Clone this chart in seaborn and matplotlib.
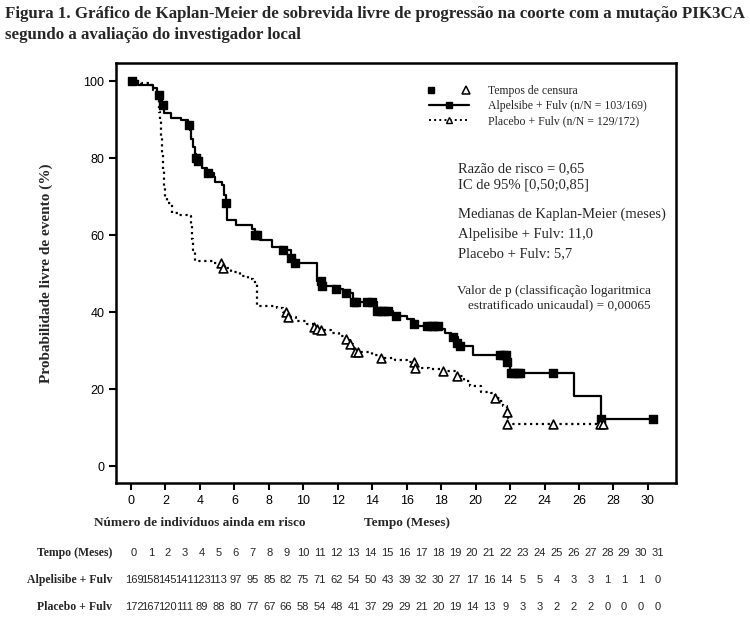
import numpy as np
import matplotlib
matplotlib.use("Agg")
import matplotlib.pyplot as plt
import seaborn as sns
from matplotlib.lines import Line2D
from matplotlib.legend_handler import HandlerTuple

# estilo
sns.set_theme(style="ticks")
plt.rcParams['font.family'] = ['Liberation Sans', 'DejaVu Sans']
SERIF = ['Liberation Serif', 'DejaVu Serif']
NARROW = ['Liberation Sans Narrow', 'Liberation Sans', 'DejaVu Sans']

# curva Alpelisibe + Fulv (tempo em meses, sobrevida %)
alp_t = [0, 0.4, 1.3, 1.5, 1.6, 1.7, 1.8, 1.9, 2.3, 2.9, 3.3, 3.4, 3.5, 3.6, 3.7, 3.8, 3.9,
         4.1, 4.4, 4.8, 4.9, 5.3, 5.4, 5.5, 5.6, 6.1, 7.0, 7.2, 7.5, 8.2, 8.8, 9.3, 9.5,
         10.8, 11.1, 11.9, 12.3, 12.5, 12.9, 14.3, 15.2, 15.4, 16.0, 16.4, 16.6, 18.0,
         18.2, 18.6, 19.0, 19.2, 19.85, 21.8, 22.0, 25.7, 27.3, 30.3]
alp_s = [100, 99, 98.1, 97, 96.4, 95, 93.8, 91.6, 90.3, 89.9, 88.6, 87.3, 85, 83, 81, 80, 79.2,
         77.5, 76.1, 75.2, 73.9, 73, 70.5, 68.3, 64, 62.7, 61.5, 60, 58.8, 57, 56.2, 54, 52.8,
         48, 46.7, 46, 45.5, 45, 42.5, 40.2, 39.5, 39, 38.2, 37, 36.4, 35.5,
         34.5, 33.5, 32, 31.1, 28.8, 27, 24.1, 18.2, 12.2, 12.2]

# censuras Alpelisibe
alp_ct = [0.05, 1.6, 1.85, 3.35, 3.8, 3.9, 4.45, 5.5, 7.2, 7.3, 8.8, 9.3, 9.5, 11.0, 11.1,
          11.9, 12.5, 12.95, 13.05, 13.7, 14.0, 14.3, 14.5, 14.7, 14.9, 15.4, 16.4, 17.2,
          17.4, 17.6, 17.8, 18.7, 18.9, 19.1, 21.4, 21.6, 21.75, 21.85, 22.05, 22.25, 22.45,
          22.6, 24.5, 27.3, 30.3]
alp_cs = [100, 96.4, 93.8, 88.6, 80, 79.2, 76.1, 68.3, 60, 60, 56.2, 54, 52.8, 48, 46.7,
          46, 45, 42.5, 42.5, 42.5, 42.5, 40.2, 40.2, 40.2, 40.2, 39, 37, 36.4,
          36.4, 36.4, 36.4, 33.5, 32, 31.1, 28.8, 28.8, 28.8, 27, 24.1, 24.1, 24.1,
          24.1, 24.1, 12.2, 12.2]

# curva Placebo + Fulv
pla_t = [0, 0.6, 1.1, 1.3, 1.5, 1.6, 1.65, 1.7, 1.75, 1.8, 1.85, 1.9, 2.0, 2.1, 2.4, 2.8,
         3.3, 3.5, 3.55, 3.6, 3.7, 4.8, 5.3, 5.8, 6.3, 6.8, 7.1, 7.3, 8.5, 8.8, 9.1, 9.6,
         10.2, 10.6, 11.0, 11.6, 12.1, 12.5, 12.7, 12.9, 13.1, 14.0, 14.5, 15.3, 16.0,
         16.5, 17.3, 18.1, 18.9, 19.3, 19.7, 20.3, 20.9, 21.1, 21.4, 21.6, 21.8, 21.9, 27.4]
pla_s = [100, 99.4, 99, 97.7, 96, 94.2, 92, 89.9, 85.5, 81.3, 77, 72.6, 70, 68.3, 65.7, 65.3,
         64.9, 62.3, 59, 56, 53.2, 52.8, 51.5, 50.5, 49.5, 48.5, 47.7, 41.5, 41, 40, 38.6, 37.8,
         37, 36, 35.3, 34.5, 33.8, 32.9, 31.7, 30.5, 29.5, 28.9, 28.2, 27.5, 27,
         25.6, 25.2, 24.7, 23.3, 22, 20.8, 19.2, 18.9, 17.6, 16.9, 15.7, 14, 10.9, 10.9]

# censuras Placebo
pla_ct = [5.2, 5.35, 9.0, 9.1, 10.6, 10.8, 11.0, 12.5, 12.7, 13.0, 13.15, 14.5, 16.4, 16.5,
          18.1, 18.9, 21.1, 21.8, 21.8, 24.5, 27.2, 27.4]
pla_cs = [52.8, 51.5, 40, 38.6, 36, 35.6, 35.3, 32.9, 31.7, 29.5, 29.5, 28.2, 27, 25.6,
          24.7, 23.3, 17.6, 14, 10.9, 10.9, 10.9, 10.9]

# tabela de número em risco
risk_months = list(range(32))
alp_risk = [169, 158, 145, 141, 123, 113, 97, 95, 85, 82, 75, 71, 62, 54, 50, 43, 39, 32,
            30, 27, 17, 16, 14, 5, 5, 4, 3, 3, 1, 1, 1, 0]
pla_risk = [172, 167, 120, 111, 89, 88, 80, 77, 67, 66, 58, 54, 48, 41, 37, 29, 29, 21,
            20, 19, 14, 13, 9, 3, 3, 2, 2, 2, 0, 0, 0, 0]

W, H = 750, 635
fig = plt.figure(figsize=(7.5, 6.35), dpi=100)
ax = fig.add_axes([116 / W, 1 - 483 / H, 560 / W, 420 / H])

sns.lineplot(x=alp_t, y=alp_s, drawstyle='steps-post', estimator=None, color='black',
             lw=1.6, ax=ax)
sns.lineplot(x=pla_t, y=pla_s, drawstyle='steps-post', estimator=None, color='black',
             lw=1.6, linestyle=':', ax=ax)
ax.scatter(alp_ct, alp_cs, marker='s', s=30, color='black', zorder=3)
ax.scatter(pla_ct, pla_cs, marker='^', s=40, facecolors='white', edgecolors='black',
           linewidths=1.2, zorder=3)

ax.set_xlim(-0.87, 31.63)
ax.set_ylim(-4.4, 104.7)
ax.set_xticks(range(0, 31, 2))
ax.set_yticks(range(0, 101, 20))
ax.tick_params(labelsize=9, width=1.5, length=5, direction='out', colors='black')
for sp in ax.spines.values():
    sp.set_linewidth(1.8)
    sp.set_color('black')
ax.set_ylabel('Probabilidade livre de evento (%)', family=SERIF, fontweight='bold',
              fontsize=11, labelpad=22)
ax.set_xlabel('')

# legenda
h_cens = (Line2D([], [], marker='s', ls='none', color='black', ms=4),
          Line2D([], [], marker='^', ls='none', mfc='white', mec='black', ms=6, mew=1.1))
h_alp = Line2D([], [], color='black', lw=1.6, marker='s', ms=5)
h_pla = Line2D([], [], color='black', lw=1.4, ls=':', marker='^', ms=5, mfc='white', mec='black')
ax.legend([h_cens, h_alp, h_pla],
          ['Tempos de censura', 'Alpelsibe + Fulv (n/N = 103/169)',
           'Placebo + Fulv (n/N = 129/172)'],
          handler_map={tuple: HandlerTuple(ndivide=None, pad=2.5)},
          loc='upper left', bbox_to_anchor=(0.55, 0.958), frameon=False,
          prop={'family': SERIF, 'size': 8.5}, handlelength=3.4, handletextpad=1.6,
          labelspacing=0.25, borderaxespad=0)

# anotações
ax.text(0.61, 0.764, 'Razão de risco = 0,65\nIC de 95% [0,50;0,85]', transform=ax.transAxes,
        family=SERIF, fontsize=10.5, va='top', linespacing=1.3)
ax.text(0.61, 0.655, 'Medianas de Kaplan-Meier (meses)\nAlpelisibe + Fulv: 11,0\nPlacebo + Fulv: 5,7',
        transform=ax.transAxes, family=SERIF, fontsize=10.5, va='top', linespacing=1.65)
ax.text(0.955, 0.471, 'Valor de p (classificação logaritmica\nestratificado unicaudal) = 0,00065',
        transform=ax.transAxes, family=SERIF, fontsize=9.5, va='top', ha='right',
        linespacing=1.25)

# título
fig.text(5 / W, 1 - 14 / H, 'Figura 1. Gráfico de Kaplan-Meier de sobrevida livre de progressão na coorte com a mutação PIK3CA',
         family=SERIF, fontweight='bold', fontsize=12.2, va='center')
fig.text(5 / W, 1 - 35 / H, 'segundo a avaliação do investigador local',
         family=SERIF, fontweight='bold', fontsize=12.2, va='center')

# cabeçalhos abaixo do gráfico
fig.text(200 / W, 1 - 523 / H, 'Número de indivíduos ainda em risco', family=SERIF,
         fontweight='bold', fontsize=9.5, ha='center', va='center')
fig.text(407 / W, 1 - 523 / H, 'Tempo (Meses)', family=SERIF, fontweight='bold',
         fontsize=9.5, ha='center', va='center')

# tabela em risco
tab = fig.add_axes([116 / W, 1 - 620 / H, 560 / W, 80 / H])
tab.set_xlim(-1.065, 32.07)
tab.set_ylim(0, 3)
tab.axis('off')
rows = [('Tempo (Meses)', risk_months), ('Alpelisibe + Fulv', alp_risk),
        ('Placebo + Fulv', pla_risk)]
for i, (label, vals) in enumerate(rows):
    yy = 2.5 - i
    tab.text(-1.3, yy, label, family=SERIF, fontweight='bold', fontsize=8.5,
             ha='right', va='center')
    for m, v in zip(risk_months, vals):
        tab.text(m, yy, str(v), family=NARROW, fontsize=8, ha='center', va='center')

fig.savefig('out.png', dpi=100)
